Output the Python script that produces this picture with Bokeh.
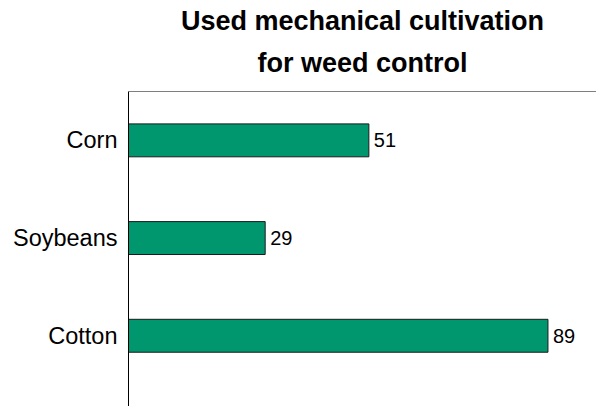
from bokeh.plotting import figure
from bokeh.models import Range1d, FixedTicker, ColumnDataSource, LabelSet, Span, Title
from bokeh.core.properties import value
from bokeh.embed import file_html
from bokeh.resources import INLINE

crops = ["Corn", "Soybeans", "Cotton"]
values = [51, 29, 89]
title_lines = ["Used mechanical cultivation", "for weed control"]

n = len(crops)
ypos = [n - i - 0.5 for i in range(n)]
src = ColumnDataSource(dict(y=ypos, v=values, lab=[str(v) for v in values]))

FONT = "Liberation Sans"

p = figure(width=596, height=406, output_backend="svg", toolbar_location=None,
           x_range=Range1d(0, 99.3), y_range=Range1d(-0.224, 3.0),
           min_border_left=128, min_border_right=0, min_border_bottom=0, min_border_top=0)
p.title = None
p.add_layout(Title(text=title_lines[1], align="center", text_font=FONT, text_font_size="27px",
                   text_font_style="bold", text_color="black", standoff=27), "above")
p.add_layout(Title(text=title_lines[0], align="center", text_font=FONT, text_font_size="27px",
                   text_font_style="bold", text_color="black", standoff=-7), "above")
p.add_layout(Title(text=" ", align="center", text_font=FONT, text_font_size="1px",
                   text_color="white", standoff=4), "above")

p.hbar(y="y", right="v", left=0, height=0.337, source=src,
       fill_color="#00966E", line_color="#1a1a1a", line_width=1)

labels = LabelSet(x="v", y="y", text="lab", source=src, x_offset=5,
                  text_baseline="middle", text_align="left",
                  text_font_size="20px", text_font=value(FONT), text_color="black")
p.add_layout(labels)

p.add_layout(Span(location=3.0, dimension="width", line_color="black", line_width=1))

p.xaxis.visible = False
p.xgrid.visible = False
p.ygrid.visible = False
p.outline_line_color = None

ya = p.yaxis[0]
ya.ticker = FixedTicker(ticks=ypos)
ya.major_label_overrides = {y: c for y, c in zip(ypos, crops)}
ya.major_tick_in = 0
ya.major_tick_out = 0
ya.minor_tick_in = 0
ya.minor_tick_out = 0
ya.axis_line_color = "black"
ya.axis_line_width = 1
ya.major_label_text_font = FONT
ya.major_label_text_font_size = "23.5px"
ya.major_label_text_color = "black"
ya.major_label_standoff = 11

open("out.html", "w").write(file_html(p, INLINE))
